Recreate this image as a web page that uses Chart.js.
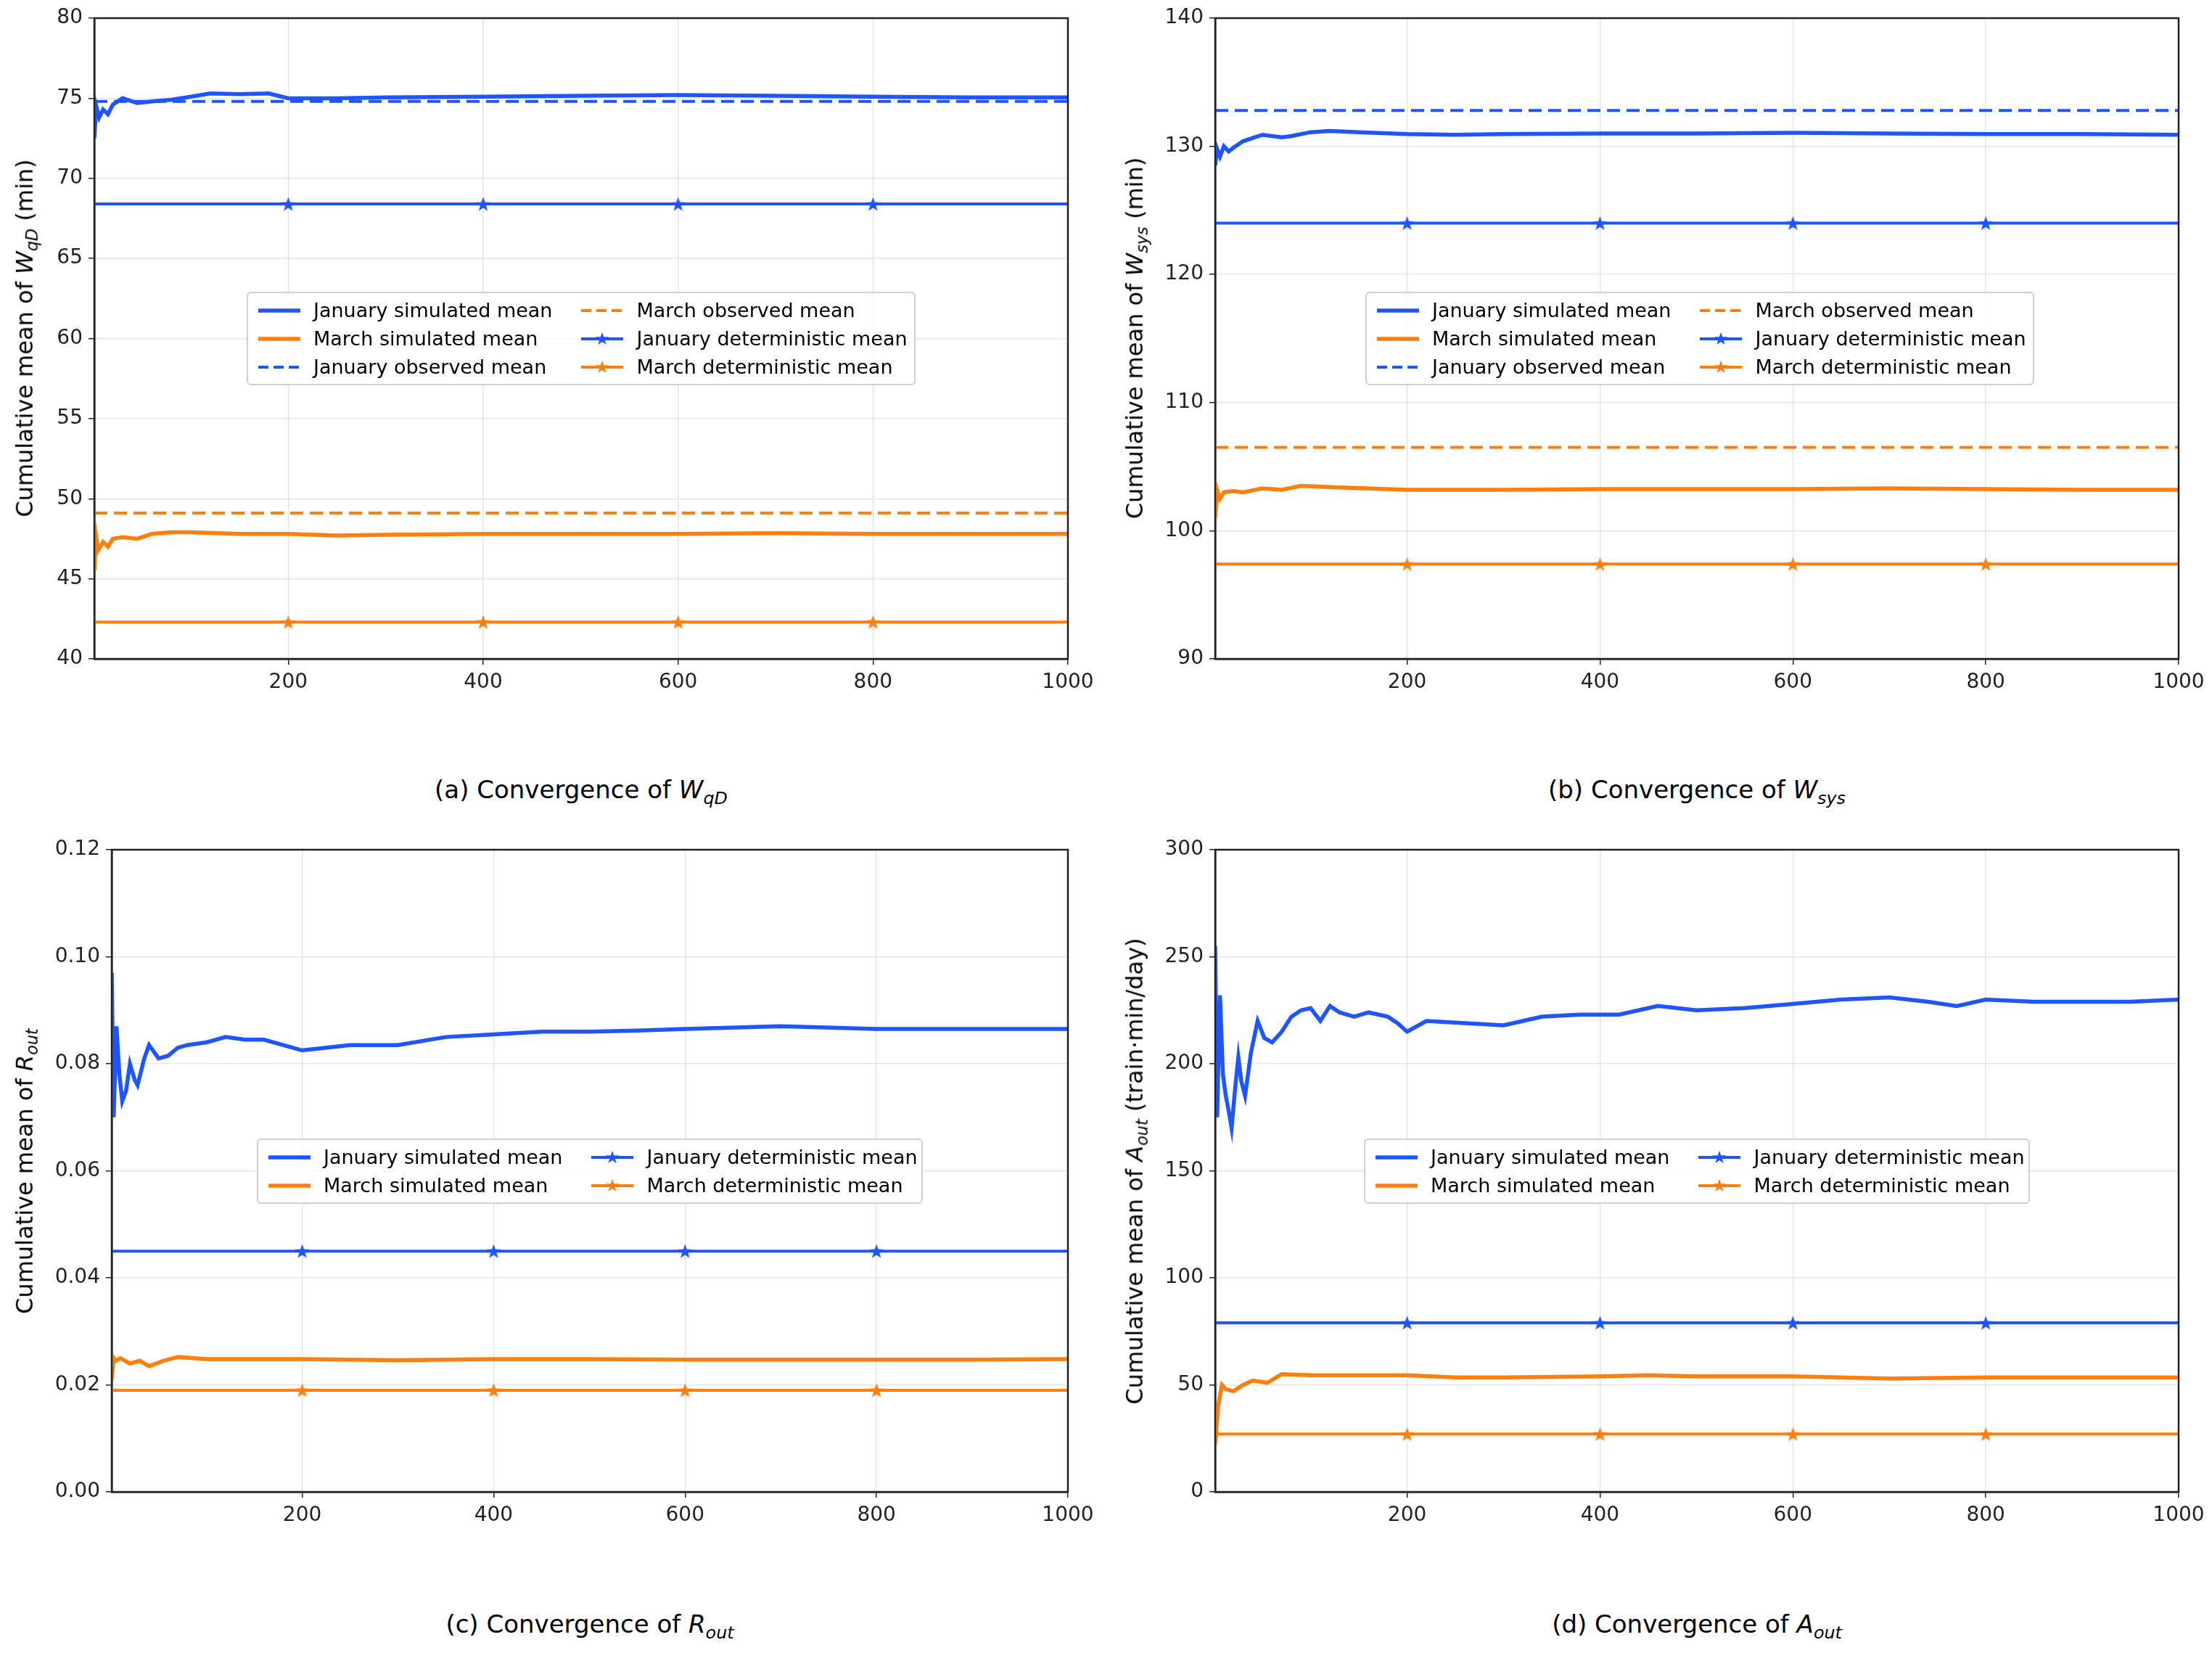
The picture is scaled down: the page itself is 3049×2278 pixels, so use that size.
<!DOCTYPE html>
<html>
<head>
<meta charset="utf-8">
<script src="https://cdn.jsdelivr.net/npm/chart.js@4.4.1/dist/chart.umd.min.js"></script>
<style>
  body { margin: 0; background: #fff; font-family: "DejaVu Sans", sans-serif; }
  #page { position: relative; width: 3049px; height: 2278px; overflow: hidden; }
  canvas { position: absolute; }
  .cap { position: absolute; font-size: 34px; transform: translateX(-50%); white-space: nowrap; }
  .ytitle { position: absolute; font-size: 32px; white-space: nowrap; transform: translate(-50%, -50%) rotate(-90deg); }
  .legend { position: absolute; border: 2px solid #d0d0d0; border-radius: 6px; background: rgba(255,255,255,0.85);
            display: grid; grid-auto-flow: column; column-gap: 40px; padding: 4px 14px; font-size: 27px; box-sizing: border-box; }
  .item { display: flex; align-items: center; height: 39px; white-space: nowrap; }
  .item svg { margin-right: 18px; }
  sub { font-size: 70%; }
</style>
</head>
<body>
<div id="page"></div>
<script>
const BLUE = '#1f55ff';
const ORANGE = '#ff7f0e';

// ----- panel (a) W_qD -----
const aJanSimX = [1, 3, 6, 10, 15, 20, 30, 45, 60, 80, 100, 120, 150, 180, 200, 250, 300, 400, 500, 600, 700, 800, 900, 1000];
const aJanSimY = [72.5, 74.5, 73.8, 74.3, 74.0, 74.6, 75.0, 74.7, 74.8, 74.9, 75.1, 75.3, 75.25, 75.3, 75.0, 75.0, 75.05, 75.1, 75.15, 75.2, 75.15, 75.1, 75.05, 75.05];
const aMarSimX = [1, 3, 5, 10, 15, 20, 30, 45, 60, 80, 100, 150, 200, 250, 300, 400, 500, 600, 700, 800, 900, 1000];
const aMarSimY = [45.5, 47.6, 46.8, 47.3, 47.0, 47.5, 47.6, 47.5, 47.8, 47.9, 47.9, 47.8, 47.8, 47.7, 47.75, 47.8, 47.8, 47.8, 47.85, 47.8, 47.8, 47.8];
const aConst = { janObs: 74.8, marObs: 49.1, janDet: 68.4, marDet: 42.3 };

// ----- panel (b) W_sys -----
const bJanSimX = [1, 3, 6, 10, 15, 20, 30, 50, 70, 80, 100, 120, 150, 200, 250, 300, 400, 500, 600, 700, 800, 900, 1000];
const bJanSimY = [128.5, 129.8, 129.2, 130.0, 129.6, 129.9, 130.4, 130.9, 130.7, 130.8, 131.1, 131.2, 131.1, 130.95, 130.9, 130.95, 131.0, 131.0, 131.05, 131.0, 130.95, 130.95, 130.9];
const bMarSimX = [1, 3, 6, 10, 20, 30, 50, 70, 90, 120, 200, 300, 400, 500, 600, 700, 800, 900, 1000];
const bMarSimY = [101.0, 103.2, 102.5, 103.0, 103.1, 103.0, 103.3, 103.2, 103.5, 103.4, 103.2, 103.2, 103.25, 103.25, 103.25, 103.3, 103.25, 103.2, 103.2];
const bConst = { janObs: 132.8, marObs: 106.5, janDet: 124.0, marDet: 97.4 };

// ----- panel (c) R_out -----
const cJanSimX = [1, 3, 6, 9, 12, 16, 20, 25, 28, 35, 40, 50, 60, 70, 80, 100, 120, 140, 160, 180, 200, 250, 300, 350, 400, 450, 500, 550, 600, 700, 800, 900, 1000];
const cJanSimY = [0.097, 0.070, 0.087, 0.078, 0.073, 0.075, 0.080, 0.077, 0.076, 0.081, 0.0835, 0.081, 0.0815, 0.083, 0.0835, 0.084, 0.085, 0.0845, 0.0845, 0.0835, 0.0825, 0.0835, 0.0835, 0.085, 0.0855, 0.086, 0.086, 0.0862, 0.0865, 0.087, 0.0865, 0.0865, 0.0865];
const cMarSimX = [1, 3, 5, 10, 20, 30, 40, 55, 70, 100, 200, 300, 400, 500, 600, 700, 800, 900, 1000];
const cMarSimY = [0.021, 0.025, 0.0245, 0.025, 0.024, 0.0245, 0.0235, 0.0245, 0.0252, 0.0248, 0.0248, 0.0246, 0.0248, 0.0248, 0.0247, 0.0247, 0.0247, 0.0247, 0.0248];
const cConst = { janDet: 0.045, marDet: 0.019 };

// ----- panel (d) A_out -----
const dJanSimX = [1, 3, 6, 9, 12, 15, 18, 22, 25, 28, 32, 38, 45, 52, 60, 70, 80, 90, 100, 110, 120, 130, 145, 160, 180, 190, 200, 220, 260, 300, 340, 380, 420, 460, 500, 550, 600, 650, 700, 740, 770, 800, 850, 900, 950, 1000];
const dJanSimY = [255, 175, 232, 195, 185, 178, 170, 190, 203, 192, 185, 205, 220, 212, 210, 215, 222, 225, 226, 220, 227, 224, 222, 224, 222, 219, 215, 220, 219, 218, 222, 223, 223, 227, 225, 226, 228, 230, 231, 229, 227, 230, 229, 229, 229, 230];
const dMarSimX = [1, 4, 8, 12, 20, 30, 40, 55, 70, 100, 150, 200, 250, 300, 400, 450, 500, 600, 700, 800, 900, 1000];
const dMarSimY = [22, 40, 50, 48, 47, 50, 52, 51, 55, 54.5, 54.5, 54.5, 53.5, 53.5, 54, 54.5, 54, 54, 53, 53.5, 53.5, 53.5];
const dConst = { janDet: 79, marDet: 27 };

const yTicksA = [40, 45, 50, 55, 60, 65, 70, 75, 80];
const yTicksB = [90, 100, 110, 120, 130, 140];
const yTicksC = [0, 0.02, 0.04, 0.06, 0.08, 0.10, 0.12];
const yTicksD = [0, 50, 100, 150, 200, 250, 300];
const xTicks = [200, 400, 600, 800, 1000];

const page = document.getElementById('page');

// filled five-point star marker
function starImg(color) {
  const c = document.createElement('canvas');
  c.width = 22; c.height = 22;
  const g = c.getContext('2d');
  g.fillStyle = color;
  g.beginPath();
  for (let i = 0; i < 10; i++) {
    const r = i % 2 === 0 ? 10.5 : 4.3;
    const a = -Math.PI / 2 + i * Math.PI / 5;
    g.lineTo(11 + r * Math.cos(a), 12 + r * Math.sin(a));
  }
  g.closePath(); g.fill();
  return c;
}
const STAR = { [BLUE]: starImg(BLUE), [ORANGE]: starImg(ORANGE) };

function pts(xs, ys) { return xs.map((x, i) => ({ x: x, y: ys[i] })); }

function simSet(xs, ys, color) {
  return { data: pts(xs, ys), borderColor: color, borderWidth: 5.5, pointRadius: 0, tension: 0 };
}
function obsSet(v, color) {
  return { data: [{ x: 1, y: v }, { x: 1000, y: v }], borderColor: color, borderWidth: 4, borderDash: [18, 9], pointRadius: 0 };
}
function detSet(v, color) {
  const xs = [1, 200, 400, 600, 800, 1000];
  return { data: xs.map(x => ({ x: x, y: v })), borderColor: color, backgroundColor: color, borderWidth: 4,
           pointStyle: xs.map(x => (x === 1 || x === 1000) ? false : STAR[color]), pointRadius: 10 };
}

function makePanel(box, canvasLeft, ticks, fmt, datasets) {
  const padTop = 25, padRight = 52, xH = 60, padBottom = 20;
  const cv = document.createElement('canvas');
  const w = box.r - canvasLeft + padRight, h = box.b - box.t + padTop + xH + padBottom;
  cv.style.left = canvasLeft + 'px';
  cv.style.top = (box.t - padTop) + 'px';
  cv.style.width = w + 'px';
  cv.style.height = h + 'px';
  page.appendChild(cv);
  const yW = box.l - canvasLeft;
  new Chart(cv, {
    type: 'line',
    data: { datasets: datasets },
    options: {
      responsive: false, animation: false, devicePixelRatio: 1,
      layout: { padding: { top: padTop, right: padRight, bottom: padBottom, left: 0 } },
      plugins: { legend: { display: false }, tooltip: { enabled: false } },
      scales: {
        x: {
          type: 'linear', min: 1, max: 1000,
          afterBuildTicks: s => { s.ticks = xTicks.map(v => ({ value: v })); },
          afterFit: s => { s.height = xH; },
          ticks: { color: '#222', font: { family: 'DejaVu Sans', size: 28 }, maxRotation: 0, padding: 8, callback: v => String(v) },
          grid: { color: '#e6e6e6', lineWidth: 1.5, tickLength: 8, tickColor: '#222' },
          border: { color: '#222', width: 2.5 }
        },
        y: {
          type: 'linear', min: ticks[0], max: ticks[ticks.length - 1],
          afterBuildTicks: s => { s.ticks = ticks.map(v => ({ value: v })); },
          afterFit: s => { s.width = yW; },
          ticks: { color: '#222', font: { family: 'DejaVu Sans', size: 28 }, padding: 8, callback: fmt },
          grid: { color: '#e6e6e6', lineWidth: 1.5, tickLength: 8, tickColor: '#222' },
          border: { color: '#222', width: 2.5 }
        }
      }
    },
    plugins: [{
      id: 'frame',
      afterDraw: c => {
        const a = c.chartArea, g = c.ctx;
        g.save(); g.strokeStyle = '#222'; g.lineWidth = 2.5;
        g.strokeRect(a.left, a.top, a.right - a.left, a.bottom - a.top);
        g.restore();
      }
    }]
  });
}

function addHTML(cls, html, left, top) {
  const d = document.createElement('div');
  d.className = cls; d.innerHTML = html;
  d.style.left = left + 'px'; d.style.top = top + 'px';
  page.appendChild(d);
  return d;
}

function sample(color, kind) {
  let s = '<svg width="58" height="22">';
  if (kind === 'obs') s += `<line x1="0" y1="11" x2="58" y2="11" stroke="${color}" stroke-width="4" stroke-dasharray="14,7"/>`;
  else s += `<line x1="0" y1="11" x2="58" y2="11" stroke="${color}" stroke-width="${kind === 'sim' ? 5.5 : 4}"/>`;
  if (kind === 'det') s += `<text x="29" y="19" font-size="24" text-anchor="middle" fill="${color}">★</text>`;
  return s + '</svg>';
}
function legend(items, rows, left, top, width) {
  const html = items.map(it => `<div class="item">${sample(it[1], it[2])}<span>${it[0]}</span></div>`).join('');
  const d = addHTML('legend', html, left, top);
  d.style.gridTemplateRows = `repeat(${rows}, 39px)`;
  d.style.width = width + 'px';
}

const full = [
  ['January simulated mean', BLUE, 'sim'], ['March simulated mean', ORANGE, 'sim'], ['January observed mean', BLUE, 'obs'],
  ['March observed mean', ORANGE, 'obs'], ['January deterministic mean', BLUE, 'det'], ['March deterministic mean', ORANGE, 'det']
];
const short = [
  ['January simulated mean', BLUE, 'sim'], ['March simulated mean', ORANGE, 'sim'],
  ['January deterministic mean', BLUE, 'det'], ['March deterministic mean', ORANGE, 'det']
];

const fmtInt = v => String(v);
const fmt2 = v => v.toFixed(2);

// (a)
const boxA = { l: 130, t: 25, r: 1472, b: 908 };
makePanel(boxA, 0, yTicksA, fmtInt, [
  simSet(aJanSimX, aJanSimY, BLUE), simSet(aMarSimX, aMarSimY, ORANGE),
  obsSet(aConst.janObs, BLUE), obsSet(aConst.marObs, ORANGE),
  detSet(aConst.janDet, BLUE), detSet(aConst.marDet, ORANGE)
]);
legend(full, 3, 340, 402, 922);
addHTML('ytitle', 'Cumulative mean of <i>W</i><sub><i>qD</i></sub> (min)', 36, 466);
addHTML('cap', '(a) Convergence of <i>W</i><sub><i>qD</i></sub>', 801, 1068);

// (b)
const boxB = { l: 1675, t: 25, r: 3003, b: 908 };
makePanel(boxB, 1550, yTicksB, fmtInt, [
  simSet(bJanSimX, bJanSimY, BLUE), simSet(bMarSimX, bMarSimY, ORANGE),
  obsSet(bConst.janObs, BLUE), obsSet(bConst.marObs, ORANGE),
  detSet(bConst.janDet, BLUE), detSet(bConst.marDet, ORANGE)
]);
legend(full, 3, 1882, 402, 922);
addHTML('ytitle', 'Cumulative mean of <i>W</i><sub><i>sys</i></sub> (min)', 1566, 466);
addHTML('cap', '(b) Convergence of <i>W</i><sub><i>sys</i></sub>', 2339, 1068);

// (c)
const boxC = { l: 154, t: 1171, r: 1472, b: 2056 };
makePanel(boxC, 0, yTicksC, fmt2, [
  simSet(cJanSimX, cJanSimY, BLUE), simSet(cMarSimX, cMarSimY, ORANGE),
  detSet(cConst.janDet, BLUE), detSet(cConst.marDet, ORANGE)
]);
legend(short, 2, 354, 1569, 918);
addHTML('ytitle', 'Cumulative mean of <i>R</i><sub><i>out</i></sub>', 36, 1614);
addHTML('cap', '(c) Convergence of <i>R</i><sub><i>out</i></sub>', 813, 2218);

// (d)
const boxD = { l: 1675, t: 1171, r: 3003, b: 2056 };
makePanel(boxD, 1550, yTicksD, fmtInt, [
  simSet(dJanSimX, dJanSimY, BLUE), simSet(dMarSimX, dMarSimY, ORANGE),
  detSet(dConst.janDet, BLUE), detSet(dConst.marDet, ORANGE)
]);
legend(short, 2, 1880, 1569, 918);
addHTML('ytitle', 'Cumulative mean of <i>A</i><sub><i>out</i></sub> (train·min/day)', 1566, 1614);
addHTML('cap', '(d) Convergence of <i>A</i><sub><i>out</i></sub>', 2339, 2218);
</script>
</body>
</html>
